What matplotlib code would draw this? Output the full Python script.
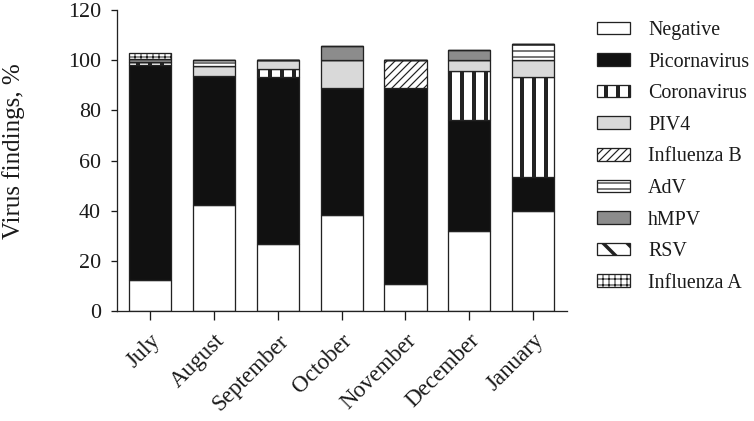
import numpy as np
import matplotlib.pyplot as plt

plt.rcParams['font.family'] = ['Liberation Serif', 'DejaVu Serif']
plt.rcParams['hatch.color'] = 'black'

# Datos (porcentaje de hallazgos por mes)
months = ['July', 'August', 'September', 'October', 'November', 'December', 'January']
negative = [12.4, 42.2, 26.6, 38.5, 10.9, 31.9, 39.8]
picornavirus = [85.9, 51.4, 66.8, 50.5, 78.1, 44.2, 13.5]
coronavirus = [1.2, 0, 3.0, 0, 0, 19.7, 40.1]
piv4 = [0, 4.2, 3.6, 11.0, 0, 4.2, 6.6]
influenza_b = [0, 0, 0, 0, 11.0, 0, 0]
adv = [0, 2.2, 0, 0, 0, 0, 6.6]
hmpv = [1.2, 0, 0, 5.6, 0, 4.0, 0]
rsv = [0, 0, 0, 0, 0, 0, 0]
influenza_a = [2.3, 0, 0, 0, 0, 0, 0]

series = [
    ('Negative', negative, 'white', None, 1.0),
    ('Picornavirus', picornavirus, '#111111', None, 1.0),
    ('Coronavirus', coronavirus, 'white', '|', 4.0),
    ('PIV4', piv4, '#d9d9d9', None, 1.0),
    ('Influenza B', influenza_b, 'white', '///', 1.2),
    ('AdV', adv, 'white', '--', 1.2),
    ('hMPV', hmpv, '#8c8c8c', None, 1.0),
    ('RSV', rsv, 'white', '\\', 3.5),
    ('Influenza A', influenza_a, 'white', '++', 1.0),
]

fig = plt.figure(figsize=(754/72, 421/72), dpi=72)
ax = fig.add_axes([0.155, 0.261, 0.597, 0.715])

x = np.arange(len(months))
bottom = np.zeros(len(months))
for name, vals, color, hatch, hlw in series:
    vals = np.array(vals, dtype=float)
    plt.rcParams['hatch.linewidth'] = hlw
    bars = ax.bar(x, vals, 0.66, bottom=bottom, color=color, edgecolor='#222222',
                  linewidth=1.3, hatch=hatch, label=name)
    for b in bars:
        if hasattr(b, 'set_hatch_linewidth'):
            b.set_hatch_linewidth(hlw)
    bottom += vals

ax.set_xlim(-0.52, 6.53)
ax.set_ylim(0, 120)
ax.set_yticks(range(0, 121, 20))
ax.set_xticks(x)
ax.set_xticklabels(months, rotation=45, ha='right', rotation_mode='anchor')
ax.tick_params(axis='y', labelsize=22, length=6, width=1.3, pad=10, colors='#1a1a1a')
ax.tick_params(axis='x', labelsize=23, length=9, width=1.3, pad=10, colors='#1a1a1a')
ax.set_ylabel('Virus findings, %', fontsize=25, color='#1a1a1a')
ax.yaxis.set_label_coords(-0.205, 0.53)
for s in ['top', 'right']:
    ax.spines[s].set_visible(False)
for s in ['left', 'bottom']:
    ax.spines[s].set_linewidth(1.3)
    ax.spines[s].set_color('#222222')

leg = ax.legend(loc='upper left', bbox_to_anchor=(0.768, 0.993), bbox_transform=fig.transFigure,
                frameon=False, fontsize=20, handlelength=1.65, handleheight=0.6,
                labelspacing=0.63, handletextpad=0.9)
for p, s in zip(leg.get_patches(), series):
    if hasattr(p, 'set_hatch_linewidth'):
        p.set_hatch_linewidth(s[4])
for t in leg.get_texts():
    t.set_color('#1a1a1a')

plt.savefig('out.png', dpi=72)
